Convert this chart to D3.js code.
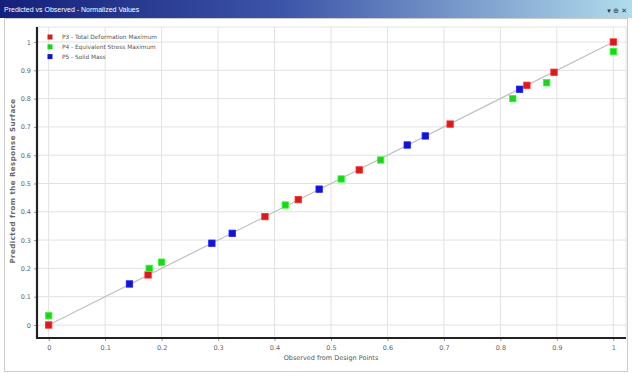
<!DOCTYPE html>
<html>
<head>
<meta charset="utf-8">
<script src="https://cdn.jsdelivr.net/npm/d3@7"></script>
<style>
  body { margin: 0; background: #fff; font-family: "DejaVu Sans", sans-serif; }
</style>
</head>
<body>
<div id="chart"></div>
<script>
// series: [observed, predicted]
const p3Points = [[0, 0], [0.176, 0.177], [0.383, 0.383], [0.442, 0.443], [0.55, 0.548], [0.711, 0.71], [0.847, 0.847], [0.895, 0.893], [1, 1]];
const p4Points = [[0, 0.033], [0.178, 0.2], [0.2, 0.222], [0.419, 0.424], [0.518, 0.516], [0.588, 0.583], [0.822, 0.8], [0.882, 0.856], [1, 0.966]];
const p5Points = [[0.143, 0.145], [0.289, 0.289], [0.325, 0.324], [0.479, 0.48], [0.635, 0.636], [0.667, 0.668], [0.834, 0.833]];
const seriesNames = ["P3 - Total Deformation Maximum", "P4 - Equivalent Stress Maximum", "P5 - Solid Mass"];
const seriesColors = ["#d81c1c", "#1fd21f", "#1414cc"];
const tickValues = [0, 0.1, 0.2, 0.3, 0.4, 0.5, 0.6, 0.7, 0.8, 0.9, 1];

const width = 632, height = 374;
const svg = d3.select("#chart").append("svg")
    .attr("width", width)
    .attr("height", height);

// title bar
const grad = svg.append("defs").append("linearGradient").attr("id", "tb");
grad.append("stop").attr("offset", "0%").attr("stop-color", "#14207a");
grad.append("stop").attr("offset", "45%").attr("stop-color", "#3d55a8");
grad.append("stop").attr("offset", "100%").attr("stop-color", "#b2dcec");
svg.append("rect").attr("x", 0).attr("y", 0).attr("width", width).attr("height", 18).attr("fill", "url(#tb)");
svg.append("text").attr("x", 4).attr("y", 12)
    .attr("fill", "#fff").style("font-size", "7px").style("font-family", "Liberation Sans Narrow, Liberation Sans, sans-serif")
    .text("Predicted vs Observed - Normalized Values");
svg.append("text").attr("x", 627).attr("y", 12.5).attr("text-anchor", "end")
    .attr("fill", "#333").style("font-size", "7px")
    .text("\u25BE \u2295 \u2715");

// panel border
svg.append("rect").attr("x", 4.5).attr("y", 18.5).attr("width", 623).attr("height", 353)
    .attr("fill", "none").attr("stroke", "#ccc");

const plotLeft = 37, plotRight = 626, plotTop = 27, plotBottom = 338;
const x = d3.scaleLinear().domain([0, 1]).range([48.7, 613.3]);
const y = d3.scaleLinear().domain([0, 1]).range([325, 42]);

// grid
const g = svg.append("g");
g.selectAll(".vg").data(tickValues).enter().append("line")
    .attr("x1", d => x(d)).attr("x2", d => x(d))
    .attr("y1", plotTop).attr("y2", plotBottom)
    .attr("stroke", "#e2e2e2").attr("stroke-width", 1);
g.selectAll(".hg").data(tickValues).enter().append("line")
    .attr("x1", plotLeft).attr("x2", plotRight)
    .attr("y1", d => y(d)).attr("y2", d => y(d))
    .attr("stroke", "#e2e2e2").attr("stroke-width", 1);
svg.append("rect").attr("x", plotLeft).attr("y", plotTop)
    .attr("width", plotRight - plotLeft).attr("height", plotBottom - plotTop)
    .attr("fill", "none").attr("stroke", "#e4e4e4");

// axes
const xAxis = svg.append("g").attr("transform", `translate(0,${plotBottom})`)
    .call(d3.axisBottom(x).tickValues(tickValues).tickSize(3).tickFormat(d3.format("")));
const yAxis = svg.append("g").attr("transform", `translate(${plotLeft},0)`)
    .call(d3.axisLeft(y).tickValues(tickValues).tickSize(3).tickFormat(d3.format("")));
[xAxis, yAxis].forEach(a => {
    a.select(".domain").remove();
    a.selectAll(".tick line").attr("stroke", "#999");
    a.selectAll(".tick text").attr("fill", "#666").style("font-size", "6.5px")
        .style("font-family", "DejaVu Sans, sans-serif");
});
xAxis.selectAll(".tick text").attr("dy", "0.9em");
yAxis.selectAll(".tick text").attr("x", -6);
svg.append("line").attr("x1", plotLeft).attr("x2", plotLeft).attr("y1", plotTop).attr("y2", plotBottom + 1)
    .attr("stroke", "#222").attr("stroke-width", 2.2);
svg.append("line").attr("x1", plotLeft - 1).attr("x2", plotRight).attr("y1", plotBottom).attr("y2", plotBottom)
    .attr("stroke", "#222").attr("stroke-width", 2.2);

// axis titles
svg.append("text").attr("x", 331).attr("y", 360).attr("text-anchor", "middle")
    .attr("fill", "#555").style("font-size", "6.5px")
    .text("Observed from Design Points");
svg.append("text").attr("transform", "translate(15,181) rotate(-90)").attr("text-anchor", "middle")
    .attr("fill", "#666").style("font-size", "7px").style("font-weight", "bold").style("letter-spacing", "0.5px")
    .text("Predicted from the Response Surface");

// diagonal
svg.append("line").attr("x1", x(0)).attr("y1", y(0)).attr("x2", x(1)).attr("y2", y(1))
    .attr("stroke", "#c0c0c0").attr("stroke-width", 1.2);

// points
const allSeries = [p3Points, p4Points, p5Points];
allSeries.forEach((pts, i) => {
    svg.append("g").selectAll("rect").data(pts).enter().append("rect")
        .attr("x", d => x(d[0]) - 3.2).attr("y", d => y(d[1]) - 3.2)
        .attr("width", 6.4).attr("height", 6.4)
        .attr("fill", seriesColors[i])
        .attr("stroke", d3.color(seriesColors[i]).brighter(1.2)).attr("stroke-width", 0.8);
});

// legend
const legend = svg.append("g").attr("transform", "translate(50,37)");
seriesNames.forEach((name, i) => {
    legend.append("rect").attr("x", -2.5).attr("y", i * 9.8 - 2.5).attr("width", 5).attr("height", 5)
        .attr("fill", seriesColors[i]);
    legend.append("text").attr("x", 12).attr("y", i * 9.8 + 2.2)
        .attr("fill", "#555").style("font-size", "5.8px").text(name);
});
</script>
</body>
</html>
